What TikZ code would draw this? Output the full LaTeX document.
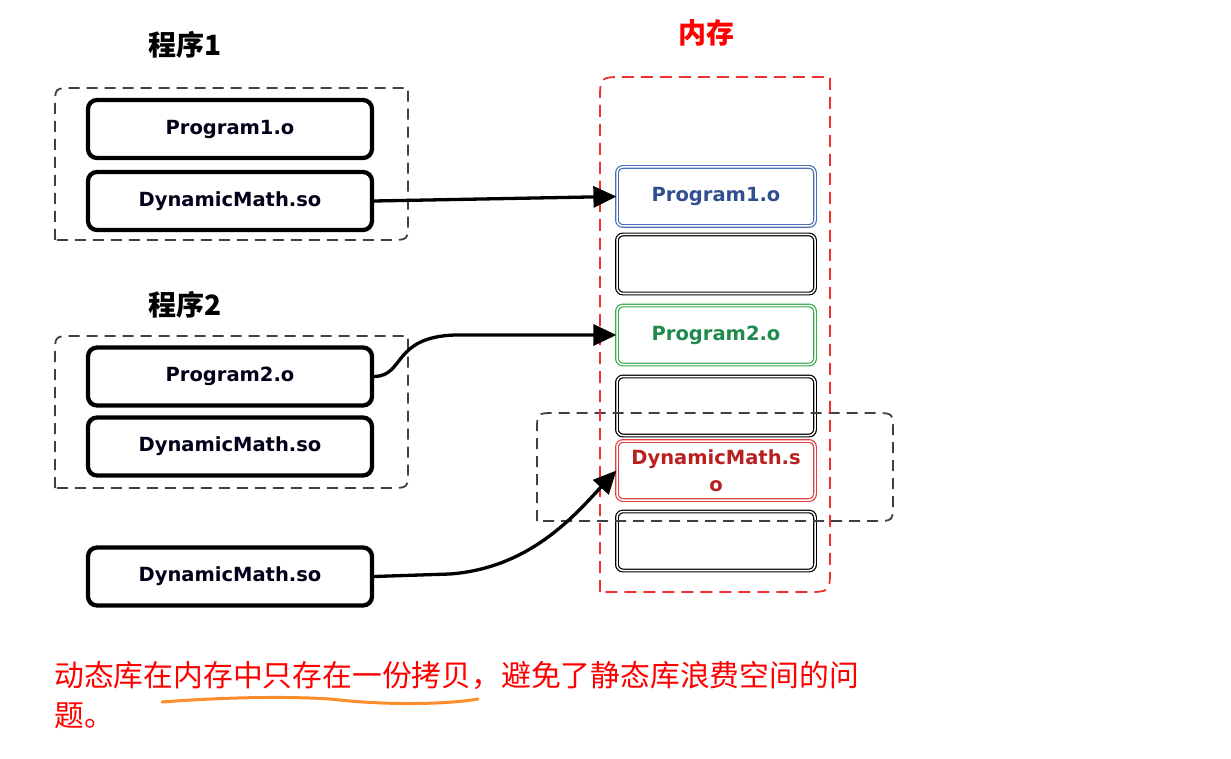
\documentclass[tikz,border=0pt]{standalone}
\usepackage{fontspec}
\usetikzlibrary{arrows.meta}
\newfontfamily\cjk{Noto Sans CJK SC}
\newfontfamily\lat{DejaVu Sans}
\definecolor{mblue}{HTML}{4A6FB5}
\definecolor{tblue}{HTML}{2F4F8F}
\definecolor{mgreen}{HTML}{3AAA4A}
\definecolor{tgreen}{HTML}{1F8A4C}
\definecolor{mred}{HTML}{E04040}
\definecolor{tred}{HTML}{B82020}
\definecolor{uline}{HTML}{FF8C2A}
\definecolor{grpc}{HTML}{404040}
\definecolor{redbox}{HTML}{F03030}
\begin{document}
\begin{tikzpicture}[x=1pt,y=-1pt,
  lbox/.style={draw, line width=4.3pt, rounded corners=9pt, minimum width=284pt, minimum height=58pt,
     inner sep=0pt, font=\lat\bfseries\fontsize{19.5}{22}\selectfont, text=black!90!blue},
  mbox/.style={draw=#1, double=white, double distance=1.5pt, line width=1.2pt, rounded corners=6pt,
     minimum width=198pt, minimum height=59pt, inner sep=0pt, align=center,
     font=\lat\bfseries\fontsize{19.5}{27}\selectfont},
  grp/.style={draw=grpc, line width=1.8pt, dash pattern=on 11pt off 7pt},
  arr/.style={line width=3.3pt, -{Triangle[length=23pt,width=21pt]}},
  head/.style={font=\cjk\bfseries\fontsize{28}{30}\selectfont},
  note/.style={font=\cjk\fontsize{29.8}{36}\selectfont, text=red, anchor=base west, inner sep=0pt}
]
\useasboundingbox (0,0) rectangle (1231,759);

% headings
\node[head] (h1) at (185,45) {程序1};
\node[head] (h2) at (185,305) {程序2};
\node[head, text=red] (hm) at (706,33) {内存};

% left boxes
\node[lbox] (p1) at (230,129) {Program1.o};
\node[lbox] (d1) at (230,201) {DynamicMath.so};
\node[lbox] (p2) at (230,376.5) {Program2.o};
\node[lbox] (d2) at (230,446.5) {DynamicMath.so};
\node[lbox] (d3) at (230,576.5) {DynamicMath.so};

% memory boxes
\node[mbox=mblue, text=tblue] (m1) at (716,196.5) {Program1.o};
\node[mbox=black] (m2) at (716,264) {};
\node[mbox=mgreen, text=tgreen] (m3) at (716,335) {Program2.o};
\node[mbox=black] (m4) at (716,406) {};
\node[mbox=mred, text=tred] (m5) at (716,470.5) {DynamicMath.s\\o};
\node[mbox=black] (m6) at (716,541) {};

% group boxes
\draw[grp] (55,240) -- (55,106) .. controls (55,88) .. (73,88) -- (408,88) -- (408,222) .. controls (408,240) .. (390,240) -- cycle;
\draw[grp] (55,488) -- (55,354) .. controls (55,336) .. (73,336) -- (408,336) -- (408,470) .. controls (408,488) .. (390,488) -- cycle;
\draw[grp] (537,521) -- (537,431) .. controls (537,413) .. (555,413) -- (875,413) .. controls (893,413) .. (893,431) -- (893,503) .. controls (893,521) .. (875,521) -- cycle;
\draw[draw=redbox, line width=1.8pt, dash pattern=on 12pt off 7pt] (600,592) -- (600,101) .. controls (600,77) .. (624,77) -- (830,77) -- (830,568) .. controls (830,592) .. (806,592) -- cycle;

% connectors
\draw[arr] (d1.east) -- (m1.west);
\draw[arr] (p2.east) .. controls (405,376) and (392,337) .. (455,335) -- (m3.west);
\draw[arr] (d3.east) -- (450,574) .. controls (530,568) and (575,515) .. (m5.west);

% note
\node[note] (t1) at (54,686) {动态库在内存中只存在一份拷贝，避免了静态库浪费空间的问};
\node[note] (t2) at (54,726) {题。};
\draw[uline, line width=3pt, line cap=round] (162,702) .. controls (240,696) and (300,697) .. (330,699) .. controls (390,706) and (450,704) .. (478,699);
\end{tikzpicture}
\end{document}
